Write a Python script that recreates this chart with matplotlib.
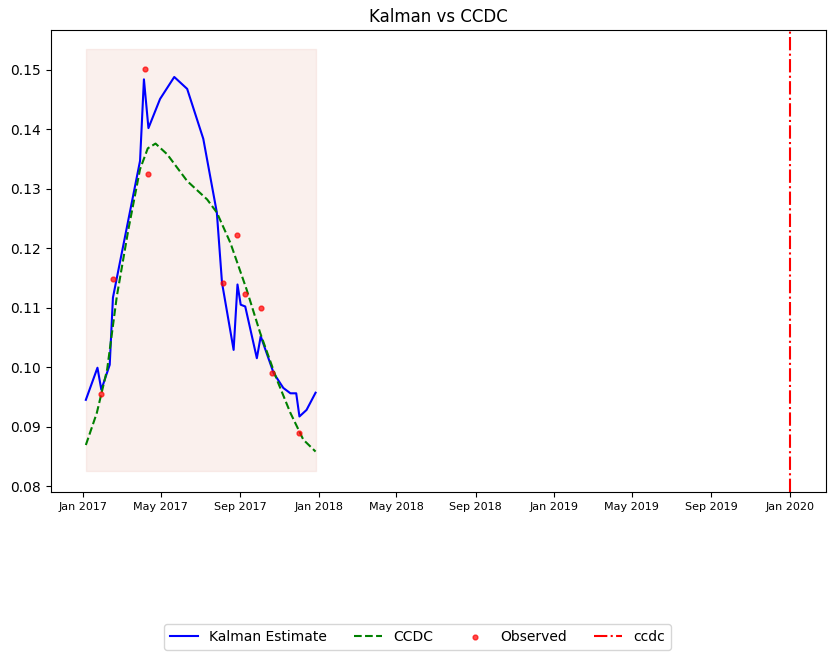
import numpy as np
import pandas as pd
import matplotlib
matplotlib.use("Agg")
import matplotlib.pyplot as plt
import matplotlib.dates as mdates

start = pd.Timestamp("2017-01-01")

# Kalman estimate (days since Jan 1 2017, value)
kal_days = [4, 22, 28, 41, 46, 88, 94, 101, 119, 141, 161, 186, 207, 215, 233, 239, 244, 251,
            269, 275, 295, 310, 321, 330, 335, 346, 360]
kal_vals = [0.0945, 0.0999, 0.0962, 0.1004, 0.1117, 0.1347, 0.1484, 0.1402, 0.1451, 0.1488,
            0.1468, 0.1384, 0.1260, 0.1142, 0.1029, 0.1139, 0.1105, 0.1102, 0.1015, 0.1052,
            0.0990, 0.0965, 0.0956, 0.0956, 0.0917, 0.0928, 0.0957]

# CCDC fit
ccdc_days = [4, 21, 37, 52, 70, 88, 100, 112, 130, 161, 192, 207, 228, 253, 274, 300, 321, 341, 360]
ccdc_vals = [0.0869, 0.0923, 0.0996, 0.1119, 0.1232, 0.1333, 0.1368, 0.1376, 0.1358, 0.1313,
             0.1282, 0.1260, 0.1209, 0.1131, 0.1058, 0.0979, 0.0923, 0.0878, 0.0858]

# Observations
obs_days = [28, 46, 95, 101, 216, 239, 251, 276, 292, 335]
obs_vals = [0.0955, 0.1149, 0.1502, 0.1325, 0.1142, 0.1222, 0.1123, 0.1099, 0.0990, 0.0889]

ccdc_break = pd.Timestamp("2020-01-01")
span_days = (5, 360)
span_vals = (0.0825, 0.1535)

to_dates = lambda d: start + pd.to_timedelta(d, unit="D")

fig = plt.figure(figsize=(8.35, 6.6), dpi=100)
ax = fig.add_axes([51 / 835, 1 - 492 / 660, 775 / 835, 462 / 660])

ax.fill_between([to_dates(span_days[0]), to_dates(span_days[1])], span_vals[0], span_vals[1],
                color="#e8b4a8", alpha=0.2)
ax.plot(to_dates(kal_days), kal_vals, color="blue", label="Kalman Estimate")
ax.plot(to_dates(ccdc_days), ccdc_vals, color="green", linestyle="--", label="CCDC")
ax.scatter(to_dates(obs_days), obs_vals, color="red", s=12, alpha=0.7, label="Observed", zorder=3)
ax.axvline(ccdc_break, color="red", linestyle="-.", label="ccdc")

ax.set_xlim(to_dates(-50), to_dates(1151))
ax.set_ylim(0.079, 0.1567)
ax.xaxis.set_major_locator(mdates.MonthLocator(bymonth=[1, 5, 9]))
ax.xaxis.set_major_formatter(mdates.DateFormatter("%b %Y"))
ax.tick_params(axis="x", labelsize=8)
ax.set_title("Kalman vs CCDC")

fig.legend(loc="center", bbox_to_anchor=(0.5, 1 - 637 / 660), ncol=4)
fig.savefig("out.png", dpi=100)
